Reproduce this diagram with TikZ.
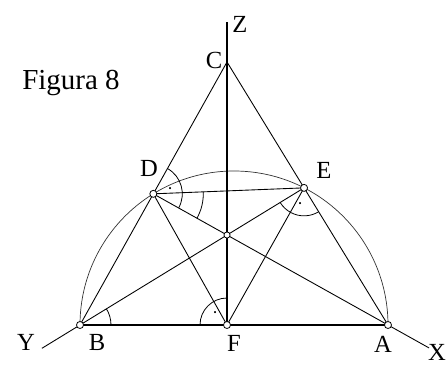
\documentclass[tikz,border=0pt]{standalone}
\usepackage{fontspec}
\setmainfont{Liberation Serif}
\usetikzlibrary{calc, angles}

\tikzset{
  edge/.style={line width=0.5pt},
  axis/.style={line width=0.75pt},
  vertex/.style={circle, draw, fill=white, inner sep=0pt, minimum size=4pt, line width=0.45pt},
  lbl/.style={font=\fontsize{14}{16}\selectfont},
  anglemark/.style={draw, line width=0.45pt},
}

\begin{document}
\begin{tikzpicture}[x=0.02cm, y=0.02cm]
  \useasboundingbox (0,0) rectangle (446,365);

  % Triangle ABC
  \coordinate (B) at (80,40);
  \coordinate (A) at (388,40);
  \coordinate (C) at (227,303);

  % Feet of the altitudes and orthocentre
  \coordinate (D) at ($(B)!(A)!(C)$);
  \coordinate (E) at ($(A)!(B)!(C)$);
  \coordinate (F) at ($(B)!(C)!(A)$);
  \coordinate (H) at (intersection of A--D and B--E);

  % Free ends of the axes
  \coordinate (Xend) at ($(D)!1.175!(A)$);
  \coordinate (Yend) at ($(E)!1.17!(B)$);
  \coordinate (Zend) at (227,343);

  % Half circle on AB
  \draw[line width=0.4pt, black!80] (A) arc[start angle=0, end angle=180, radius=154];

  % Sides and axes
  \draw[edge] (B) -- (C) -- (A);
  \draw[axis] (B) -- (A);
  \draw[axis] (F) -- (Zend);
  \draw[edge] (D) -- (A) -- (Xend);
  \draw[edge] (E) -- (B) -- (Yend);
  \draw[edge] (D) -- (F) -- (E);
  \draw[edge] (D) -- (E);

  % Angle marks
  \pic[anglemark, angle radius=0.58cm, angle eccentricity=0.6,
       pic text={\fontsize{5}{5}\selectfont\textbullet}] {angle = A--D--C};
  \pic[anglemark, angle radius=1.0cm] {angle = A--D--E};
  \pic[anglemark, angle radius=0.62cm] {angle = A--B--E};
  \pic[anglemark, angle radius=0.56cm, angle eccentricity=0.6,
       pic text={\fontsize{5}{5}\selectfont\textbullet}] {angle = B--E--A};
  \pic[anglemark, angle radius=0.54cm, angle eccentricity=0.62,
       pic text={\fontsize{5}{5}\selectfont\textbullet}] {angle = C--F--B};

  % Points
  \foreach \p in {A, B, D, E, F}
    \node[vertex] (v\p) at (\p) {};
  \node[vertex, minimum size=3.5pt] (vH) at (H) {};

  % Labels
  \node[lbl] (labA) at (383,21) {A};
  \node[lbl] (labB) at (97,23) {B};
  \node[lbl] (labC) at (214,305) {C};
  \node[lbl] (labD) at (149,197) {D};
  \node[lbl] (labE) at (324,195) {E};
  \node[lbl] (labF) at (234,22) {F};
  \node[lbl] (labX) at (437,13) {X};
  \node[lbl] (labY) at (26,23) {Y};
  \node[lbl] (labZ) at (240,341) {Z};
  \node[font=\fontsize{16.5}{20}\selectfont] (title) at (71,282) {Figura 8};
\end{tikzpicture}
\end{document}
